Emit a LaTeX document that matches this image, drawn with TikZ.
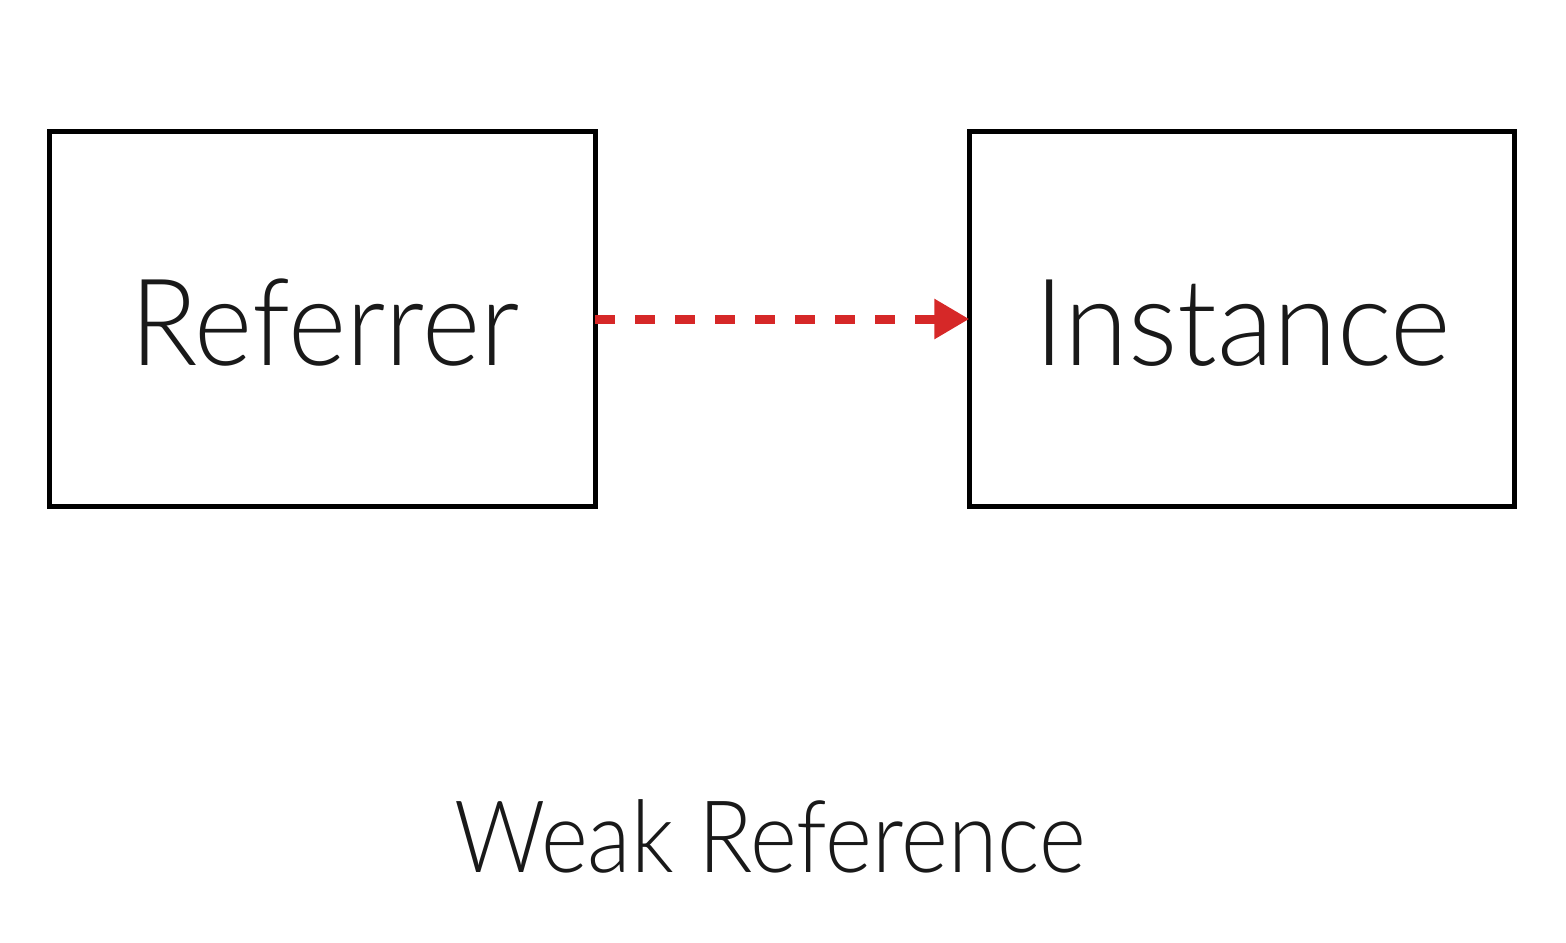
\documentclass[tikz,border=0pt]{standalone}
\usepackage{fontspec}
\newfontfamily\lightfont{Lato Light}
\usetikzlibrary{arrows.meta}
\definecolor{arrowred}{RGB}{214,40,40}
\definecolor{textgrey}{RGB}{25,25,25}
\tikzset{
  box/.style={draw=black, line width=0.05cm, minimum width=5.45cm, minimum height=3.74cm, outer sep=0pt, inner sep=0pt},
  lbl/.style={font=\lightfont\fontsize{34.4}{40}\selectfont, text=textgrey, anchor=base, inner sep=0pt},
  caption/.style={font=\lightfont\fontsize{28.5}{34}\selectfont, text=textgrey, anchor=base, inner sep=0pt},
  weak/.style={draw=arrowred, line width=0.09cm, dash pattern=on 0.2cm off 0.2cm, -{Triangle[length=0.35cm, width=0.38cm]}}
}
\begin{document}
\begin{tikzpicture}[x=0.01cm, y=-0.01cm]
\useasboundingbox (0,0) rectangle (1566,942);
\node[box] (ref) at (322.5,319) {};
\node[box] (inst) at (1242,319) {};
\node[lbl] (reftext) at (325,365) {\scalebox{0.92}[1]{Referrer}};
\node[lbl] (insttext) at (1243,365) {\scalebox{0.96}[1]{Instance}};
\draw[weak] (ref.east) -- (inst.west);
\node[caption] (cap) at (770,872) {\scalebox{0.895}[1]{Weak Reference}};
\end{tikzpicture}
\end{document}
